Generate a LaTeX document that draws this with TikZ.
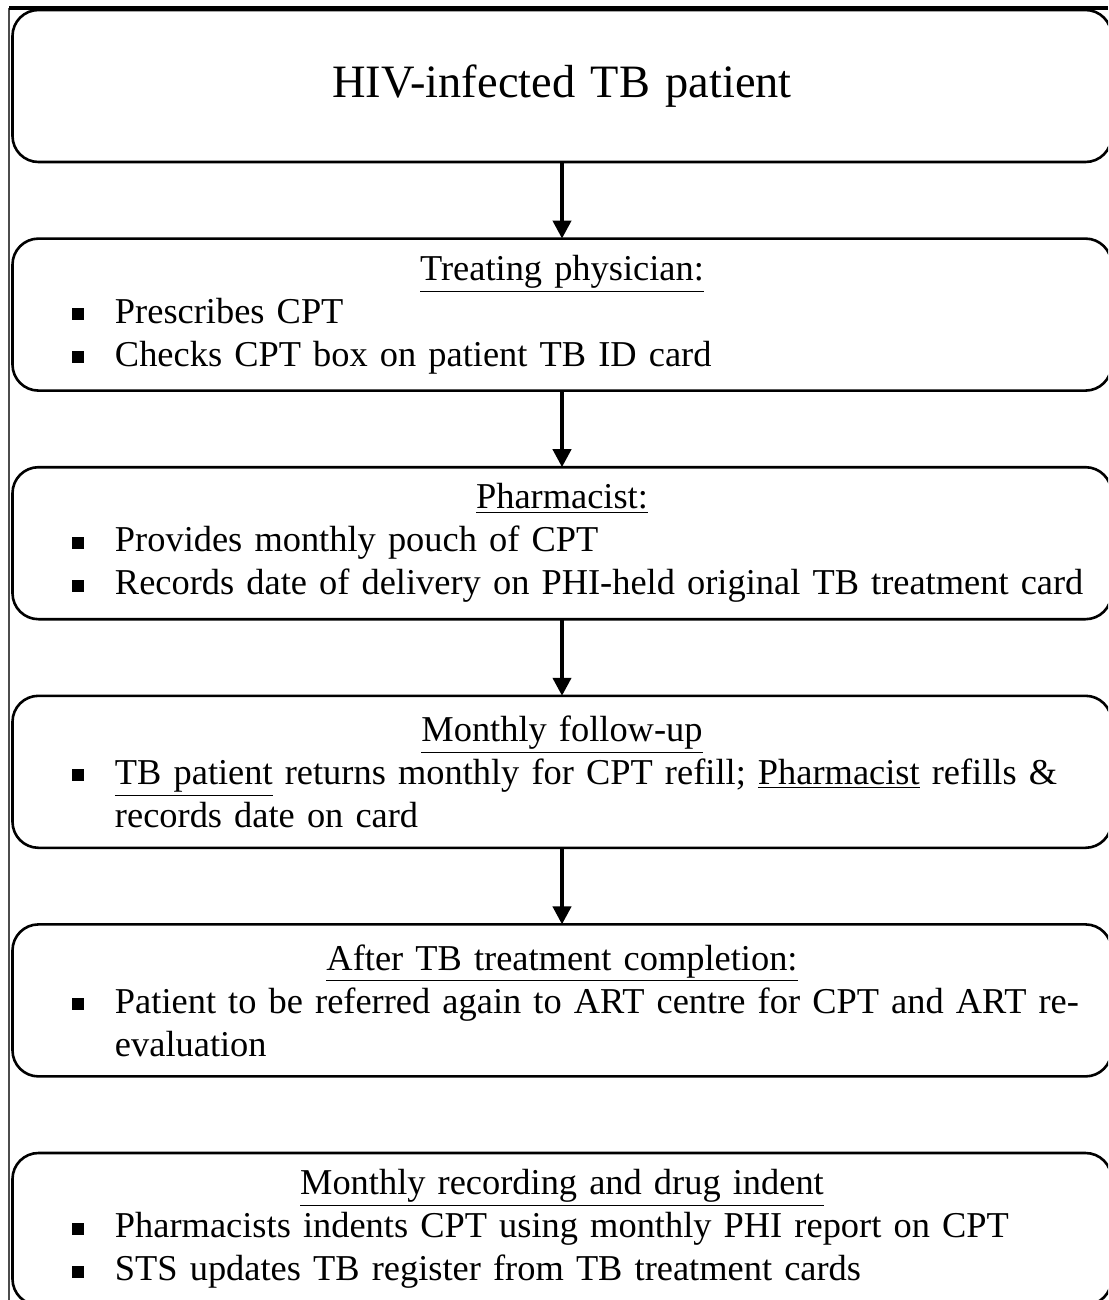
\documentclass[tikz,border=0pt]{standalone}
\usepackage{fontspec}
\setmainfont{Liberation Serif}
\usetikzlibrary{arrows.meta, positioning}

\tikzset{
  stepbox/.style={draw, line width=1.3pt, rounded corners=13pt, outer sep=0pt,
    minimum width=549.5pt, minimum height=76pt, text width=530pt,
    inner xsep=9.75pt, align=left,
    font=\fontsize{18.2}{21.5}\selectfont},
  flow/.style={-{Triangle[length=9pt,width=9pt]}, line width=2pt}
}
\newcommand{\bul}{\noindent\hspace*{20pt}\makebox[21.5pt][l]{\rule[1.6pt]{6pt}{6pt}}}
\newcommand{\cont}{\hspace*{41.5pt}}
\newcommand{\ul}[1]{\underline{#1}}

\begin{document}
\begin{tikzpicture}[x=0.5pt, y=-0.5pt, node distance=38.3pt, >=Stealth]

  \useasboundingbox (0,0) rectangle (1108,1300);
  \clip (0,0) rectangle (1108,1300);

  % frame
  \draw[line width=0.8pt, black!70] (9,1300) -- (9,8);
  \draw[line width=2pt] (9,8) -- (1108,8);

  % boxes
  \node[stepbox, align=center, font=\fontsize{23.2}{27}\selectfont] (b1) at (562,86)
    {HIV-infected TB patient};
  \node[stepbox, below=of b1] (b2)
    {\centerline{\ul{Treating physician:}}
     \bul Prescribes CPT\\
     \bul Checks CPT box on patient TB ID card};
  \node[stepbox, below=of b2] (b3)
    {\centerline{\ul{Pharmacist:}}
     \bul Provides monthly pouch of CPT\\
     \bul Records date of delivery on PHI-held original TB treatment card};
  \node[stepbox, below=of b3] (b4)
    {\centerline{\ul{Monthly follow-up}}
     \bul \ul{TB patient} returns monthly for CPT refill; \ul{Pharmacist} refills \&\\
     \cont records date on card};
  \node[stepbox, below=of b4] (b5)
    {\centerline{\ul{After TB treatment completion:}}
     \bul Patient to be referred again to ART centre for CPT and ART re-\\
     \cont evaluation};
  \node[stepbox, below=of b5] (b6)
    {\centerline{\ul{Monthly recording and drug indent}}
     \bul Pharmacists indents CPT using monthly PHI report on CPT\\
     \bul STS updates TB register from TB treatment cards};

  % arrows
  \draw[flow] (b1) -- (b2);
  \draw[flow] (b2) -- (b3);
  \draw[flow] (b3) -- (b4);
  \draw[flow] (b4) -- (b5);

\end{tikzpicture}
\end{document}
